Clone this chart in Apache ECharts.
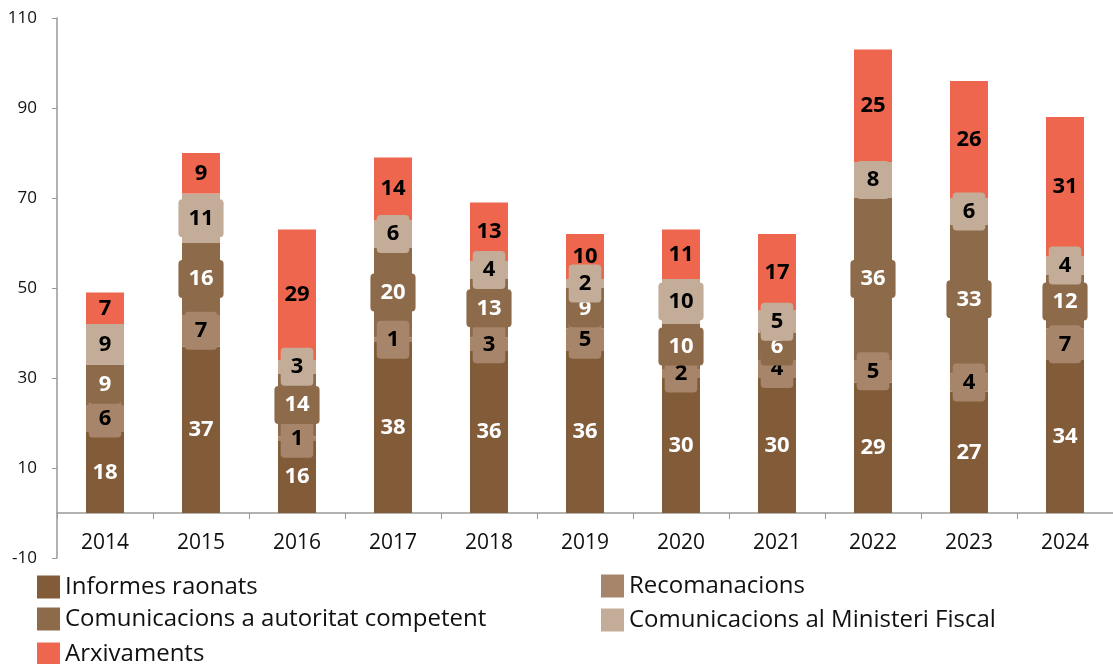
<!DOCTYPE html>
<html><head><meta charset="utf-8">
<script src="https://cdn.jsdelivr.net/npm/echarts@6/dist/echarts.min.js"></script>
<style>html,body{margin:0;padding:0;background:#fff}#c{width:1113px;height:664px}</style>
</head><body><div id="c"></div>
<script>
const years = ['2014','2015','2016','2017','2018','2019','2020','2021','2022','2023','2024'];
const informes = [18,37,16,38,36,36,30,30,29,27,34];
const recomanacions = [6,7,1,1,3,5,2,4,5,4,7];
const comAutoritat = [9,16,14,20,13,9,10,6,36,33,12];
const comFiscal = [9,11,3,6,4,2,10,5,8,6,4];
const arxivaments = [7,9,29,14,13,10,11,17,25,26,31];

const FONT = 'Open Sans';
function mk(name, data, color, labelColor, boxed){
  const label = {show:true, position:'inside', color:labelColor, fontFamily:FONT, fontWeight:'bold', fontSize:22};
  if (boxed){ label.backgroundColor = color; label.padding = [8,10]; label.borderRadius = 4; }
  return { name, type:'bar', stack:'s', data, barWidth:38, itemStyle:{color}, label, emphasis:{disabled:true} };
}
function lg(name, left, cy){
  return {left, top:cy-12, padding:0, itemWidth:23, itemHeight:23, itemGap:0, icon:'rect',
    textStyle:{fontSize:24, color:'#111', fontFamily:FONT}, data:[name]};
}
const chart = echarts.init(document.getElementById('c'));
chart.setOption({
  animation:false,
  textStyle:{fontFamily:FONT},
  grid:{left:57, right:0, top:18, bottom:106, containLabel:false},
  legend:[
    lg('Informes raonats', 37, 587),
    lg('Comunicacions a autoritat competent', 37, 619),
    lg('Arxivaments', 37, 654),
    lg('Recomanacions', 601, 586),
    lg('Comunicacions al Ministeri Fiscal', 601, 620)
  ],
  xAxis:{type:'category', data:years, offset:-45,
    axisLine:{onZero:false, lineStyle:{color:'#999', width:1.5}},
    axisTick:{show:true, length:6, lineStyle:{color:'#999'}},
    axisLabel:{fontSize:21, color:'#111', margin:20, fontFamily:FONT}},
  yAxis:{type:'value', min:-10, max:110, interval:20,
    splitLine:{show:false},
    axisLine:{show:true, lineStyle:{color:'#999', width:1.5}},
    axisTick:{show:true, length:5, lineStyle:{color:'#999'}},
    axisLabel:{fontSize:17, color:'#111', margin:20, fontFamily:FONT}},
  series:[
    mk('Informes raonats', informes, '#825B39', '#fff', false),
    mk('Recomanacions', recomanacions, '#A6856A', '#000', true),
    mk('Comunicacions a autoritat competent', comAutoritat, '#8C6A4A', '#fff', true),
    mk('Comunicacions al Ministeri Fiscal', comFiscal, '#C4AD98', '#000', true),
    mk('Arxivaments', arxivaments, '#EE664E', '#000', false)
  ]
});
</script></body></html>
